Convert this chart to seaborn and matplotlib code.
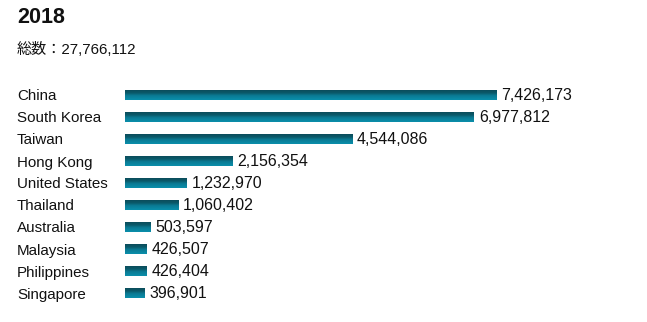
import numpy as np
import pandas as pd
import seaborn as sns
import matplotlib
matplotlib.use("Agg")
import matplotlib.pyplot as plt
from matplotlib.colors import LinearSegmentedColormap

title = "2018"
subtitle = "総数：27,766,112"
countries = ["China", "South Korea", "Taiwan", "Hong Kong", "United States",
             "Thailand", "Australia", "Malaysia", "Philippines", "Singapore"]
visitors = [7426173, 6977812, 4544086, 2156354, 1232970,
            1060402, 503597, 426507, 426404, 396901]

sns.set_theme(style="white")
plt.rcParams['font.family'] = ['Liberation Sans', 'Noto Sans CJK JP', 'DejaVu Sans']

W, H = 647, 322
fig = plt.figure(figsize=(W / 100, H / 100), dpi=100)
# axes: x from 125px, 50 px per million; rows centered at 95 + 22*i
left_px, top_px, bot_px = 125, 84, 304
ax = fig.add_axes([left_px / W, (H - bot_px) / H, 500 / W, (bot_px - top_px) / H])

df = pd.DataFrame({"country": countries, "visitors": visitors})
sns.barplot(data=df, y="country", x="visitors", orient="h", color="#0a8aa6",
            width=0.45, saturation=1, ax=ax)

cmap = LinearSegmentedColormap.from_list(
    "bar", [(0, "#0b4d5b"), (0.3, "#0b5a6a"), (0.55, "#0a7a93"), (1, "#0a8fab")])
grad = np.linspace(0, 1, 64).reshape(-1, 1)
for p in list(ax.patches):
    x0, y0, w, h = p.get_x(), p.get_y(), p.get_width(), p.get_height()
    im = ax.imshow(grad, cmap=cmap, aspect="auto", origin="upper",
                   extent=(x0, x0 + w, y0 + h, y0), zorder=p.get_zorder() + 0.1)
    im.set_clip_path(p)

ax.set_xlim(0, 10_000_000)
ax.set_ylim(len(countries) - 0.5, -0.5)

ax.bar_label(ax.containers[0], labels=[f"{v:,}" for v in visitors],
             padding=3.5, fontsize=11.5, color="#111111")

ax.set_xlabel("")
ax.set_ylabel("")
ax.set_xticks([])
ax.tick_params(axis="y", length=0, pad=(left_px - 17) * 0.72, labelsize=10.9,
               labelcolor="#111111")
for lab in ax.get_yticklabels():
    lab.set_horizontalalignment("left")
for s in ax.spines.values():
    s.set_visible(False)

fig.text(17 / W, 1 - 17.5 / H, title, fontsize=15.5, fontweight="bold",
         va="center", ha="left", color="#111111")
fig.text(17 / W, 1 - 50 / H, subtitle, fontsize=10.9, va="center", ha="left",
         color="#111111")

fig.savefig("out.png", dpi=100)
